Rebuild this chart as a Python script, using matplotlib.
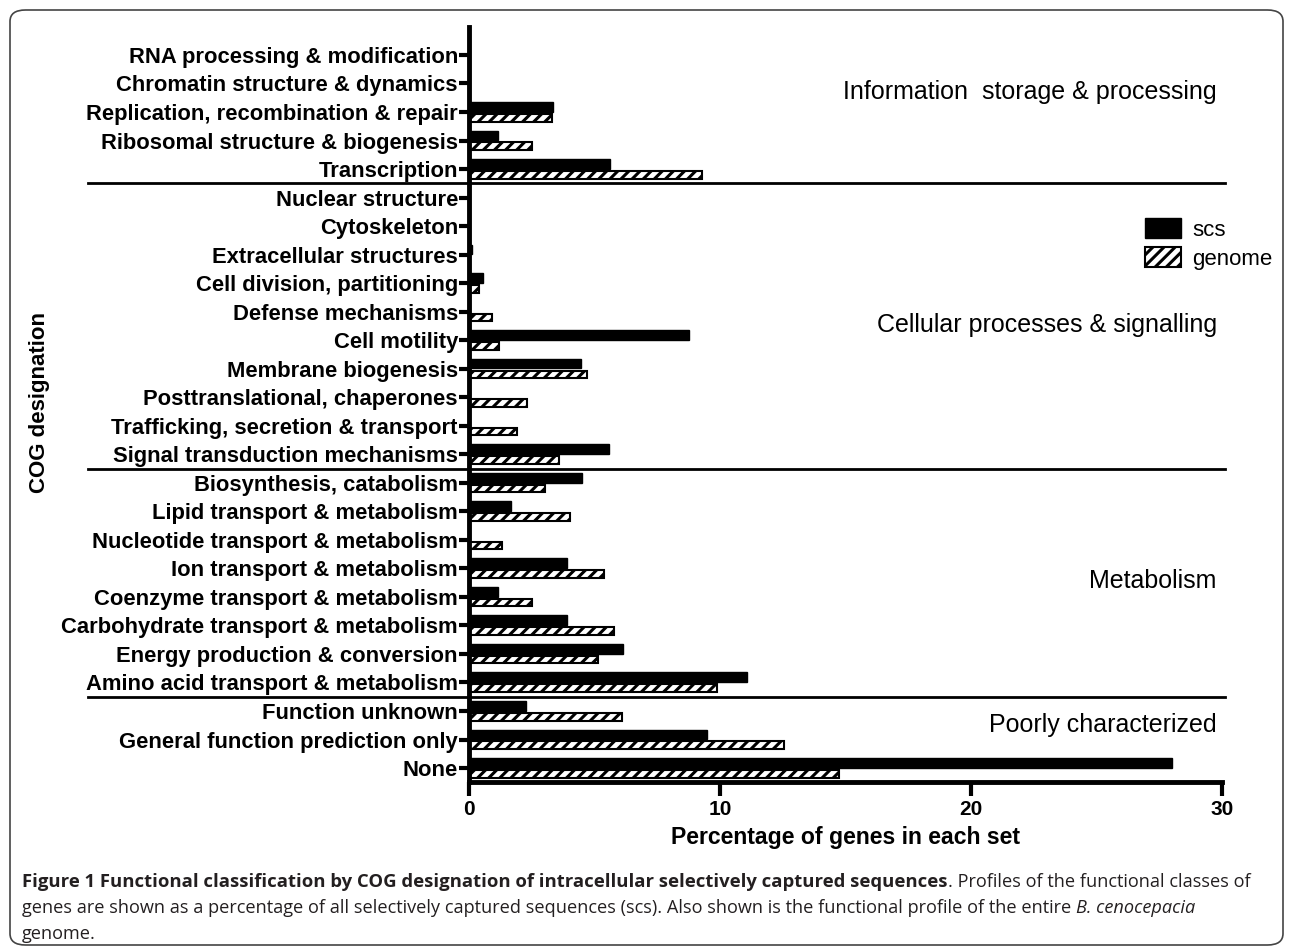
import numpy as np
import matplotlib
matplotlib.use('Agg')
import matplotlib.pyplot as plt
from matplotlib.patches import Patch, FancyBboxPatch
from matplotlib.lines import Line2D

categories = ['RNA processing & modification', 'Chromatin structure & dynamics',
              'Replication, recombination & repair', 'Ribosomal structure & biogenesis',
              'Transcription', 'Nuclear structure', 'Cytoskeleton',
              'Extracellular structures', 'Cell division, partitioning',
              'Defense mechanisms', 'Cell motility', 'Membrane biogenesis',
              'Posttranslational, chaperones', 'Trafficking, secretion & transport',
              'Signal transduction mechanisms', 'Biosynthesis, catabolism',
              'Lipid transport & metabolism', 'Nucleotide transport & metabolism',
              'Ion transport & metabolism', 'Coenzyme transport & metabolism',
              'Carbohydrate transport & metabolism', 'Energy production & conversion',
              'Amino acid transport & metabolism', 'Function unknown',
              'General function prediction only', 'None']
scs = [0, 0, 3.35, 1.17, 5.6, 0, 0, 0.1, 0.57, 0, 8.77, 4.46, 0, 0, 5.58,
       4.5, 1.66, 0, 3.9, 1.17, 3.9, 6.13, 11.08, 2.28, 9.47, 28.0]
genome = [0, 0, 3.3, 2.5, 9.3, 0, 0, 0, 0.4, 0.9, 1.2, 4.7, 2.33, 1.9, 3.6,
          3.02, 4.04, 1.3, 5.36, 2.52, 5.77, 5.15, 9.9, 6.09, 12.53, 14.75]
group_names = ['Information  storage & processing', 'Cellular processes & signalling',
               'Metabolism', 'Poorly characterized']
group_label_y = [23.7, 15.53, 6.56, 1.51]
separators = [20.5, 10.5, 2.5]

plt.rcParams['font.family'] = ['Liberation Sans', 'DejaVu Sans']
plt.rcParams['hatch.linewidth'] = 2.2

fig = plt.figure(figsize=(12.93, 9.5), dpi=100)
ax = fig.add_axes([469/1293, 1-782/950, 753/1293, 755/950])

n = len(categories)
pos = np.arange(n)[::-1]

ax.barh(pos + 0.18, scs, height=0.34, color='black', edgecolor='black', linewidth=1)
ax.barh(pos - 0.2, genome, height=0.27, color='white', edgecolor='black',
        linewidth=1.5, hatch='///')

ax.set_xlim(0, 30)
ax.set_ylim(-0.49, 25.98)
ax.set_xticks([0, 10, 20, 30])
ax.set_yticks(pos)
ax.set_yticklabels(categories, fontsize=15.8, fontweight='bold')
for t in ax.get_xticklabels():
    t.set_fontsize(15)
    t.set_fontweight('bold')
ax.tick_params(axis='y', length=7, width=3, pad=1)
ax.tick_params(axis='x', length=10, width=3, pad=3)

for s in ['top', 'right']:
    ax.spines[s].set_visible(False)
ax.spines['left'].set_linewidth(3.5)
ax.spines['bottom'].set_linewidth(3.5)

ax.set_xlabel('Percentage of genes in each set', fontsize=16.6, fontweight='bold', labelpad=5)
fig.text(40/1293, 1-402/950, 'COG designation', rotation=90, fontsize=16,
         fontweight='bold', ha='center', va='center')

trans = ax.get_yaxis_transform()
for yv in separators:
    ax.add_line(Line2D([-0.506, 1.004], [yv, yv], transform=trans, color='black',
                       linewidth=2, clip_on=False))

for name, yv in zip(group_names, group_label_y):
    ax.text(0.993, yv, name, transform=trans, ha='right', va='center', fontsize=18)

handles = [Patch(facecolor='black', edgecolor='black', label='scs'),
           Patch(facecolor='white', edgecolor='black', hatch='///', linewidth=1.5, label='genome')]
fig.legend(handles=handles, loc='upper left', bbox_to_anchor=(1145/1293, 1-218/950),
           frameon=False, fontsize=16, handlelength=1.62, handleheight=1.0,
           labelspacing=0.3, handletextpad=0.5, borderpad=0, borderaxespad=0)

# border
fig.patches.append(FancyBboxPatch((10/1293, 5/950), 1273/1293, 935/950,
                                  boxstyle='round,pad=0,rounding_size=0.012',
                                  transform=fig.transFigure, facecolor='none',
                                  edgecolor='#444444', linewidth=1.2))

# caption
cap_font = ['Open Sans', 'DejaVu Sans']
cap_color = '#231f20'
fs = 13.1
fig.canvas.draw()
r = fig.canvas.get_renderer()
x0 = 22/1293
t1 = fig.text(x0, 1-882/950, 'Figure 1 Functional classification by COG designation of '
              'intracellular selectively captured sequences', fontsize=fs + 0.2,
              fontweight='bold', family=cap_font, color=cap_color, va='center')
bb = t1.get_window_extent(r)
fig.text(bb.x1/fig.bbox.width, 1-882/950, '. Profiles of the functional classes of',
         fontsize=fs, family=cap_font, color=cap_color, va='center')
t2 = fig.text(x0, 1-908/950, 'genes are shown as a percentage of all selectively captured '
              'sequences (scs). Also shown is the functional profile of the entire ',
              fontsize=fs, family=cap_font, color=cap_color, va='center')
bb = t2.get_window_extent(r)
fig.text(bb.x1/fig.bbox.width, 1-908/950, 'B. cenocepacia', fontsize=fs,
         family=cap_font, style='italic', color=cap_color, va='center')
fig.text(x0, 1-934/950, 'genome.', fontsize=fs, family=cap_font, color=cap_color,
         va='center')

fig.savefig('out.png', dpi=100)
